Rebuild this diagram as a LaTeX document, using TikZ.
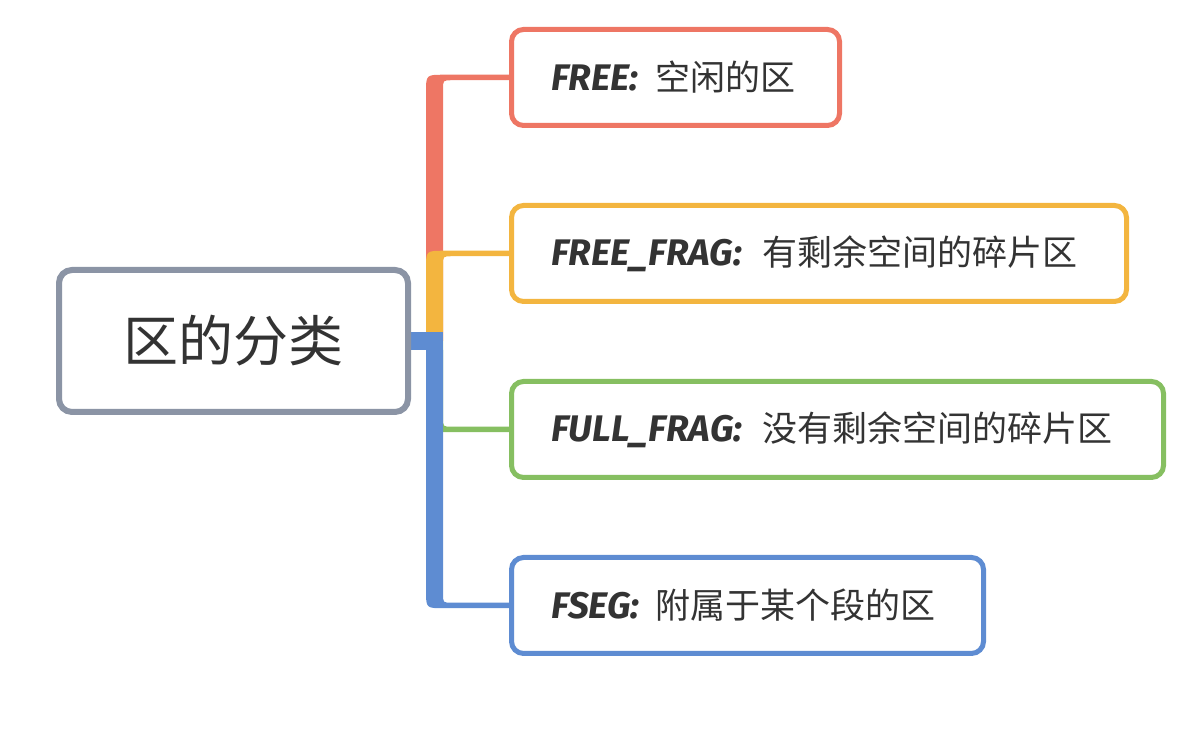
\documentclass[tikz,border=0pt]{standalone}
\usepackage{fontspec}
\newfontfamily\cjk{Noto Sans CJK SC}
\newfontfamily\latfont{Fira Sans}
\usetikzlibrary{calc,backgrounds}
\definecolor{cred}{HTML}{EE7664}
\definecolor{corange}{HTML}{F3B53F}
\definecolor{cgreen}{HTML}{86BF61}
\definecolor{cblue}{HTML}{5E8CD2}
\definecolor{cgray}{HTML}{8B94A5}
\definecolor{ctext}{HTML}{333333}
\newcommand\lat{\latfont\bfseries\itshape\fontsize{37}{42}\selectfont}
\newcommand\branchup[2]{%
  \fill[#1] let \p1=(#2.west), \p2=(root.east) in
    (426pt,\y2) -- (426pt,\y1-15.25pt) .. controls (426pt,\y1+2.75pt) .. (444pt,\y1+2.75pt)
    -- (\x1+3pt,\y1+2.75pt) -- (\x1+3pt,\y1-2.75pt) -- (452pt,\y1-2.75pt)
    .. controls (443pt,\y1-2.75pt) .. (443pt,\y1-11.75pt) -- (443pt,\y2) -- cycle;}
\newcommand\branchdown[3]{%
  \fill[#1] let \p1=(#2.west), \p2=(root.east) in
    (426pt,\y2-#3) -- (426pt,\y1+15.25pt) .. controls (426pt,\y1-2.75pt) .. (444pt,\y1-2.75pt)
    -- (\x1+3pt,\y1-2.75pt) -- (\x1+3pt,\y1+2.75pt) -- (452pt,\y1+2.75pt)
    .. controls (443pt,\y1+2.75pt) .. (443pt,\y1+11.75pt) -- (443pt,\y2-#3) -- cycle;}
\begin{document}
\begin{tikzpicture}[x=1pt,y=1pt,
  rootbox/.style={draw=cgray, line width=6pt, rounded corners=13pt, fill=white,
    minimum width=349pt, minimum height=142pt, inner sep=0pt, text=ctext,
    font=\cjk\fontsize{55}{60}\selectfont},
  childbox/.style={draw=#1, line width=5pt, rounded corners=12pt, fill=white,
    minimum height=96pt, inner xsep=39.5pt, inner ysep=0pt, align=left, text=ctext,
    font=\cjk\fontsize{35}{40}\selectfont}]
\useasboundingbox (0,0) rectangle (1194,730);
\node[rootbox] (root) at (233.5,389) {区的分类};
\node[childbox=cred, minimum width=328pt, text width=249pt] (c1) at (675.5,652.5)
  {\makebox[104pt][l]{\lat FREE:}空闲的区};
\node[childbox=corange, minimum width=615pt, text width=536pt] (c2) at (819,476.5)
  {\makebox[211pt][l]{\lat FREE\_FRAG:}有剩余空间的碎片区};
\node[childbox=cgreen, minimum width=652pt, text width=573pt] (c3) at (837.5,300.5)
  {\makebox[211pt][l]{\lat FULL\_FRAG:}没有剩余空间的碎片区};
\node[childbox=cblue, minimum width=472pt, text width=393pt] (c4) at (747.5,124.5)
  {\makebox[104pt][l]{\lat FSEG:}附属于某个段的区};
\begin{scope}[on background layer]
\branchup{cred}{c1}
\branchup{corange}{c2}
\branchdown{cgreen}{c3}{0pt}
\branchdown{cblue}{c4}{9pt}
\fill[cblue] let \p2=(root.east) in (\x2-3pt,\y2-9pt) rectangle (443pt,\y2+9pt);
\end{scope}
\end{tikzpicture}
\end{document}
